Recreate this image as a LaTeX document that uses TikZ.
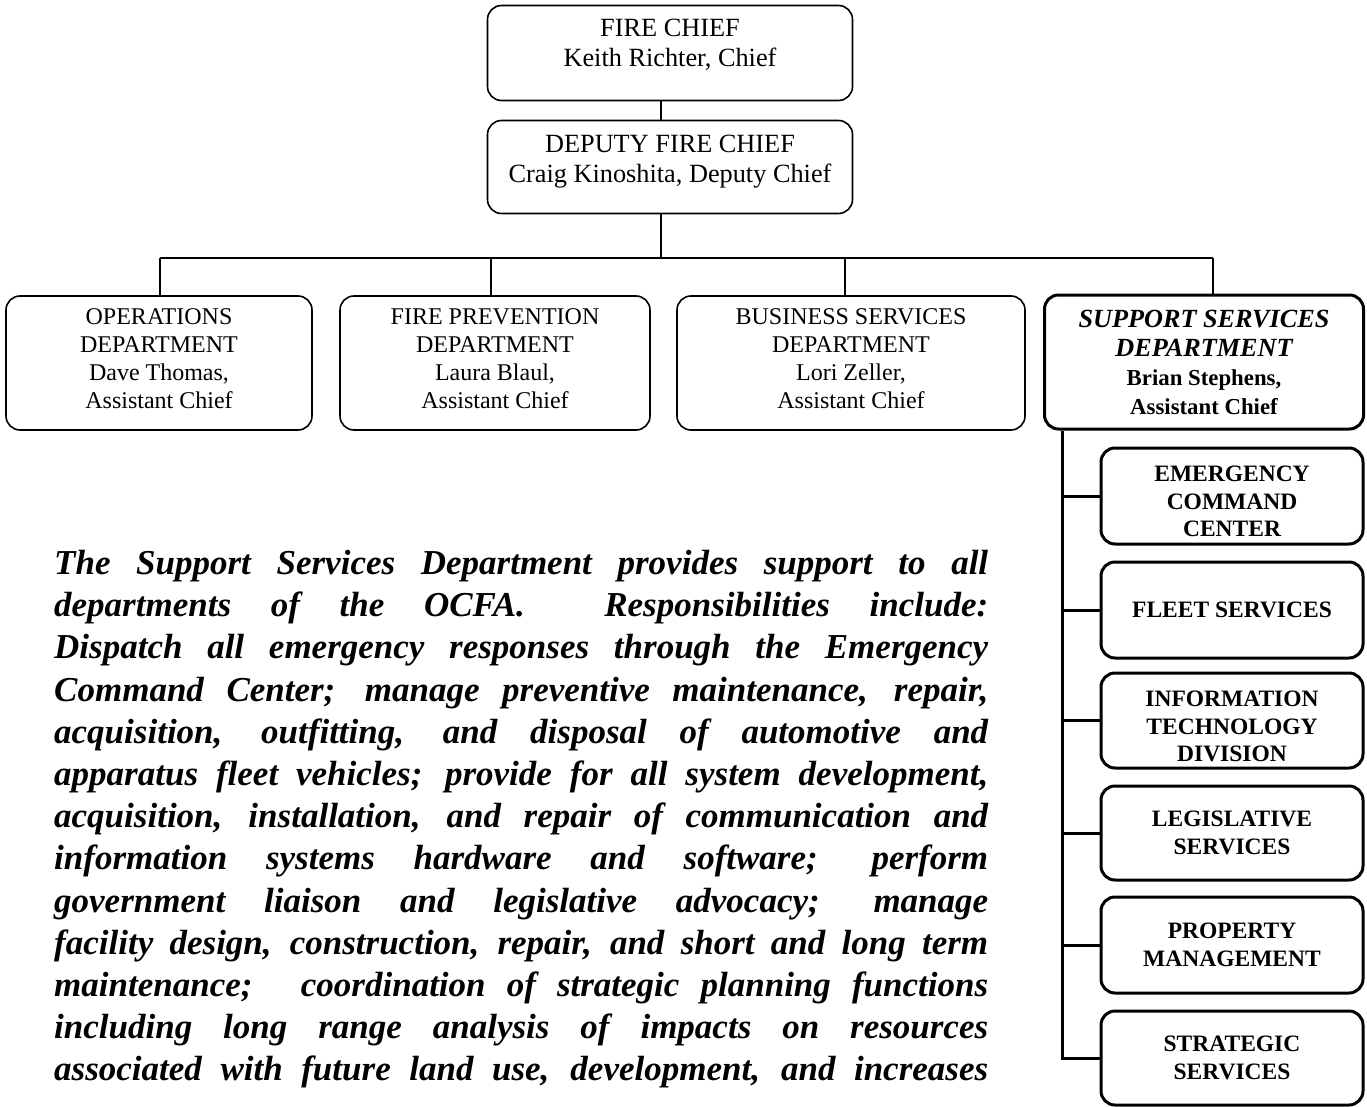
\documentclass[tikz,border=0pt]{standalone}
\usepackage{fontspec}
\setmainfont{Liberation Serif}
\usetikzlibrary{calc}
\newcommand{\fullline}[1]{\makebox[934pt][s]{#1}}
\begin{document}
\begin{tikzpicture}[x=1pt,y=-1pt,
  conn/.style={line width=1.6pt},
  heavyconn/.style={line width=3pt},
  orgbox/.style={draw, line width=1.6pt, rounded corners=14pt, align=center, inner sep=0pt,
    font=\fontsize{24}{28}\selectfont},
  topbox/.style={orgbox, font=\fontsize{26.3}{30}\selectfont},
  leadbox/.style={orgbox, line width=3pt, font=\fontsize{24}{29}\selectfont},
  unitbox/.style={draw, line width=3pt, rounded corners=14pt, align=center, inner sep=0pt,
    minimum width=262pt, font=\fontsize{23.5}{27.5}\selectfont\bfseries}
]
\useasboundingbox (0,0) rectangle (1367,1107);
\fill[white] (0,0) rectangle (1367,1107);

% top of the chain of command
\node[topbox, minimum width=365pt, minimum height=95pt] (chief) at (670,53)
  {FIRE CHIEF\\Keith Richter, Chief\rule[-21pt]{0pt}{0pt}};
\node[topbox, minimum width=365pt, minimum height=93pt] (deputy) at (670,167)
  {DEPUTY FIRE CHIEF\\Craig Kinoshita, Deputy Chief\rule[-17pt]{0pt}{0pt}};

% departments
\node[orgbox, minimum width=306pt, minimum height=134pt] (ops) at (159,363)
  {OPERATIONS\\DEPARTMENT\\Dave Thomas,\\Assistant Chief\rule[-8pt]{0pt}{0pt}};
\node[orgbox, minimum width=310pt, minimum height=134pt] (fp) at (495,363)
  {FIRE PREVENTION\\DEPARTMENT\\Laura Blaul,\\Assistant Chief\rule[-8pt]{0pt}{0pt}};
\node[orgbox, minimum width=348pt, minimum height=134pt] (bs) at (851,363)
  {BUSINESS SERVICES\\DEPARTMENT\\Lori Zeller,\\Assistant Chief\rule[-8pt]{0pt}{0pt}};
\node[leadbox, minimum width=319pt, minimum height=134pt] (ss) at (1204,362)
  {{\fontsize{26.2}{29}\selectfont\bfseries\itshape SUPPORT SERVICES}\\
   {\fontsize{26.2}{29}\selectfont\bfseries\itshape DEPARTMENT}\\
   {\fontsize{22.8}{29}\selectfont\bfseries Brian Stephens,}\\
   {\fontsize{22.8}{29}\selectfont\bfseries Assistant Chief}};

% support services units
\node[unitbox, minimum height=96pt] (ecc)   at (1232,496)   {\rule{0pt}{27pt}EMERGENCY\\COMMAND\\CENTER};
\node[unitbox, minimum height=96pt] (fleet) at (1232,610)   {FLEET SERVICES};
\node[unitbox, minimum height=95pt] (it)    at (1232,720.5) {\rule{0pt}{28pt}INFORMATION\\TECHNOLOGY\\DIVISION};
\node[unitbox, minimum height=94pt] (leg)   at (1232,833)   {LEGISLATIVE\\SERVICES};
\node[unitbox, minimum height=96pt] (prop)  at (1232,945)   {PROPERTY\\MANAGEMENT};
\node[unitbox, minimum height=94pt] (strat) at (1232,1058)  {STRATEGIC\\SERVICES};

% connectors
\coordinate (bus) at (661,258);
\coordinate (trunk) at (1062,0);
\draw[conn] ([xshift=-9pt]chief.south) -- ([xshift=-9pt]deputy.north);
\draw[conn] ([xshift=-9pt]deputy.south) -- (bus);
\draw[conn] ([xshift=1pt]ops.north |- bus) -- ([xshift=9pt]ss.north |- bus);
\draw[conn] ([xshift=1pt]ops.north) -- ([xshift=1pt]ops.north |- bus);
\draw[conn] ([xshift=-4pt]fp.north) -- ([xshift=-4pt]fp.north |- bus);
\draw[conn] ([xshift=-6pt]bs.north) -- ([xshift=-6pt]bs.north |- bus);
\draw[conn] ([xshift=9pt]ss.north) -- ([xshift=9pt]ss.north |- bus);

\draw[heavyconn] (ss.south -| trunk) -- (strat.west -| trunk) -- (strat.west);
\foreach \u in {ecc,fleet,it,leg,prop}
  \draw[heavyconn] (\u.west -| trunk) -- (\u.west);

% description of the department, one justified line at a time
\node[anchor=north west, inner sep=0pt, align=left,
  font=\fontsize{35}{42.2}\selectfont\bfseries\itshape] (desc) at (54,550)
{\fullline{The Support Services Department provides support to all}\\
\fullline{departments of the OCFA. \ Responsibilities include:}\\
\fullline{Dispatch all emergency responses through the Emergency}\\
\fullline{Command Center; manage preventive maintenance, repair,}\\
\fullline{acquisition, outfitting, and disposal of automotive and}\\
\fullline{apparatus fleet vehicles; provide for all system development,}\\
\fullline{acquisition, installation, and repair of communication and}\\
\fullline{information systems hardware and software; perform}\\
\fullline{government liaison and legislative advocacy; manage}\\
\fullline{facility design, construction, repair, and short and long term}\\
\fullline{maintenance; \ coordination of strategic planning functions}\\
\fullline{including long range analysis of impacts on resources}\\
\fullline{associated with future land use, development, and increases}};
\end{tikzpicture}
\end{document}
